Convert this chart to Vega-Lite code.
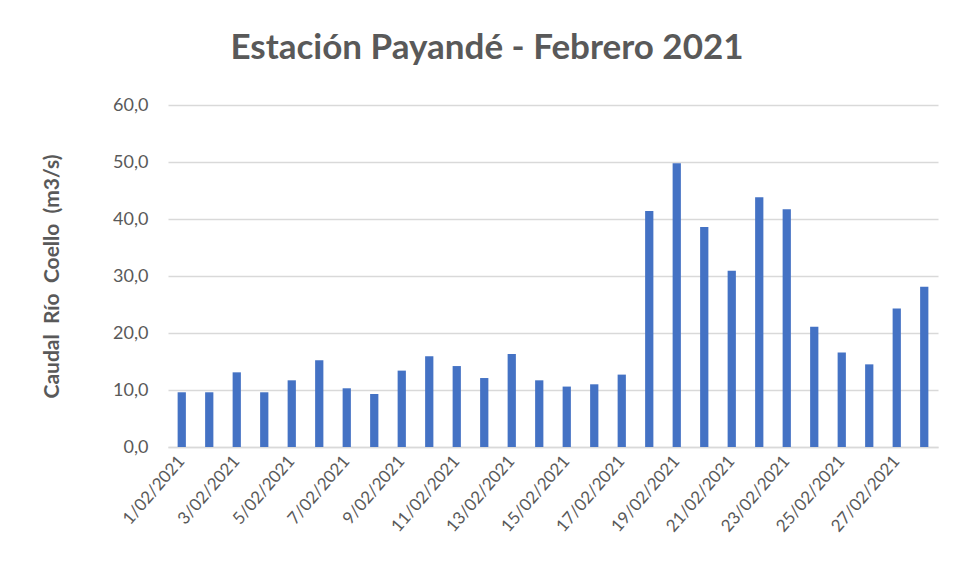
{
  "$schema": "https://vega.github.io/schema/vega-lite/v6.json",
  "autosize": {"type": "none"},
  "width": 770,
  "height": 342,
  "padding": {"left": 168, "top": 105, "right": 19, "bottom": 131},
  "background": "white",
  "title": {
    "text": "Estación Payandé - Febrero 2021",
    "font": "Lato",
    "fontSize": 35,
    "fontWeight": "bold",
    "color": "#595959",
    "anchor": "middle",
    "frame": "group",
    "dx": -66,
    "offset": 30
  },
  "data": {
    "values": [
      {"fecha": "1/02/2021", "caudal": 9.6},
      {"fecha": "2/02/2021", "caudal": 9.6},
      {"fecha": "3/02/2021", "caudal": 13.1},
      {"fecha": "4/02/2021", "caudal": 9.6},
      {"fecha": "5/02/2021", "caudal": 11.7},
      {"fecha": "6/02/2021", "caudal": 15.2},
      {"fecha": "7/02/2021", "caudal": 10.3},
      {"fecha": "8/02/2021", "caudal": 9.3},
      {"fecha": "9/02/2021", "caudal": 13.4},
      {"fecha": "10/02/2021", "caudal": 15.9},
      {"fecha": "11/02/2021", "caudal": 14.2},
      {"fecha": "12/02/2021", "caudal": 12.1},
      {"fecha": "13/02/2021", "caudal": 16.3},
      {"fecha": "14/02/2021", "caudal": 11.7},
      {"fecha": "15/02/2021", "caudal": 10.6},
      {"fecha": "16/02/2021", "caudal": 11.0},
      {"fecha": "17/02/2021", "caudal": 12.7},
      {"fecha": "18/02/2021", "caudal": 41.4},
      {"fecha": "19/02/2021", "caudal": 49.8},
      {"fecha": "20/02/2021", "caudal": 38.6},
      {"fecha": "21/02/2021", "caudal": 30.9},
      {"fecha": "22/02/2021", "caudal": 43.8},
      {"fecha": "23/02/2021", "caudal": 41.7},
      {"fecha": "24/02/2021", "caudal": 21.1},
      {"fecha": "25/02/2021", "caudal": 16.6},
      {"fecha": "26/02/2021", "caudal": 14.5},
      {"fecha": "27/02/2021", "caudal": 24.3},
      {"fecha": "28/02/2021", "caudal": 28.1}
    ]
  },
  "mark": {"type": "bar", "color": "#4472C4"},
  "encoding": {
    "x": {
      "field": "fecha",
      "type": "nominal",
      "sort": null,
      "scale": {"paddingInner": 0.7, "paddingOuter": 0.35},
      "axis": {
        "title": null,
        "values": ["1/02/2021", "3/02/2021", "5/02/2021", "7/02/2021", "9/02/2021", "11/02/2021", "13/02/2021", "15/02/2021", "17/02/2021", "19/02/2021", "21/02/2021", "23/02/2021", "25/02/2021", "27/02/2021"],
        "labelAngle": -49,
        "labelFont": "Lato",
        "labelFontSize": 17,
        "labelColor": "#595959",
        "labelPadding": 11,
        "ticks": false,
        "domainColor": "#D9D9D9",
        "domainWidth": 1.5,
        "grid": false
      }
    },
    "y": {
      "field": "caudal",
      "type": "quantitative",
      "scale": {"domain": [0, 60], "nice": false},
      "axis": {
        "title": "Caudal\u00a0\u00a0Río\u00a0\u00a0Coello\u00a0\u00a0(m3/s)",
        "titleFont": "Lato",
        "titleFontSize": 21,
        "titleFontWeight": "bold",
        "titleColor": "#595959",
        "titlePadding": 50,
        "values": [0, 10, 20, 30, 40, 50, 60],
        "labelExpr": "replace(format(datum.value, '.1f'), '.', ',')",
        "labelFont": "Lato",
        "labelFontSize": 18,
        "labelColor": "#595959",
        "labelPadding": 20,
        "ticks": false,
        "domain": false,
        "grid": true,
        "gridColor": "#D9D9D9",
        "gridWidth": 1.5
      }
    }
  },
  "config": {
    "view": {"stroke": null}
  }
}
